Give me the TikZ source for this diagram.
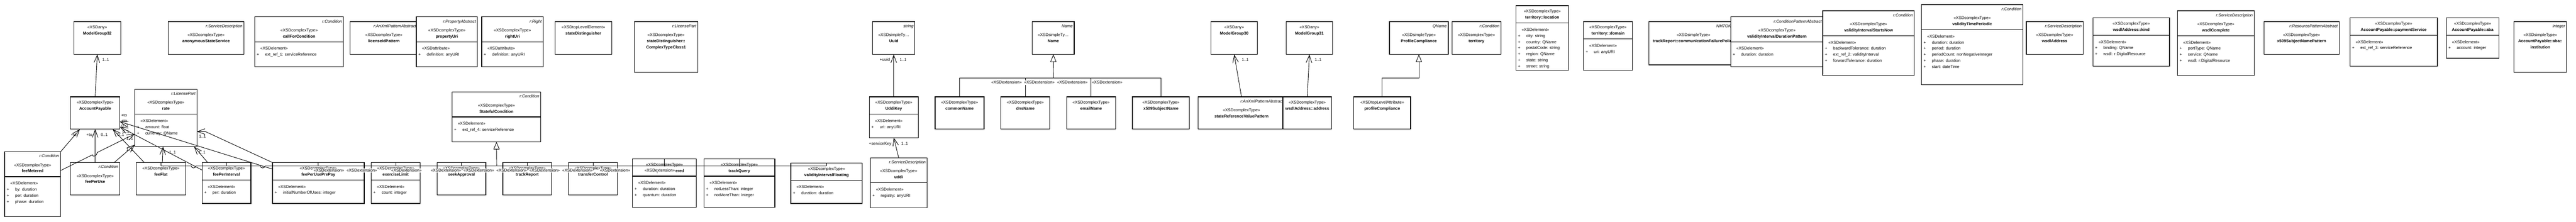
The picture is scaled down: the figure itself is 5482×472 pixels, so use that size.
\documentclass[tikz,border=0pt]{standalone}
\usepackage{fontspec}
\setmainfont{Liberation Sans}
\usetikzlibrary{arrows.meta}
\begin{document}
\begin{tikzpicture}[x=1pt, y=-1pt,
  every node/.style={inner sep=0pt, font=\fontsize{8.7}{13}\selectfont, text height=6.3pt, text depth=1.8pt},
  umlbox/.style={draw, fill=white, line width=1.4pt, anchor=north west, outer sep=0pt},
  umlline/.style={line width=1.4pt},
  stereo/.style={},
  clsname/.style={font=\fontsize{8.7}{13}\selectfont\bfseries},
  pkghead/.style={font=\fontsize{8.7}{13}\selectfont\itshape, anchor=east},
  attrtext/.style={},
  extlabel/.style={fill=white, inner sep=0.6pt},
  multlabel/.style={},
  link/.style={line width=1pt},
  assocline/.style={link, -{Straight Barb[length=16pt, width=12pt]}},
  genline/.style={link, -{Triangle[length=16pt, width=13pt, fill=white]}}]
\useasboundingbox (0,0) rectangle (5482,472);

\foreach \nm/\xa/\ya/\xb/\yb/\hd/\st/\cn in {
 anonService/358/46/519/116/r:ServiceDescription/«XSDcomplexType»/anonymousStateService,
 callForCond/542/36/731/142/r:Condition/«XSDcomplexType»/callForCondition,
 licIdPattern/745/46/889/116/r:AnXmlPatternAbstract/«XSDcomplexType»/licenseIdPattern,
 propUri/886/36/1016/142/r:PropertyAbstract/«XSDcomplexType»/propertyUri,
 rightUri/1025/36/1156/142/r:Right/«XSDcomplexType»/rightUri,
 ctClassOne/1350/46/1485/154/r:LicensePart/«XSDcomplexType»/stateDistinguisher::,
 stateful/962/196/1151/302/r:Condition/«XSDcomplexType»/StatefulCondition,
 feeMetered/10/323/129/461/r:Condition/«XSDcomplexType»/feeMetered,
 rate/287/190/419/312/r:LicensePart/«XSDcomplexType»/rate,
 feePerUse/150/346/255/415/r:Condition/«XSDcomplexType»/feePerUse,
 uuid/1857/46/1947/116/string/«XSDsimpleTy…/Uuid,
 uddi/1852/336/1973/442/r:ServiceDescription/«XSDcomplexType»/uddi,
 nameType/2197/46/2286/116/Name/«XSDsimpleTy…/Name,
 stateRefVP/2550/206/2734/275/r:AnXmlPatternAbstract/«XSDcomplexType»/stateReferenceValuePattern,
 profCompType/2957/46/3082/116/QName/«XSDsimpleType»/ProfileCompliance,
 territory/3090/46/3194/116/r:Condition/«XSDcomplexType»/territory,
 commFailure/3509/46/3699/138/NMTOKEN/«XSDsimpleType»/trackReport::communicationFailurePolicy,
 durPattern/3683/36/3880/142/r:ConditionPatternAbstract/«XSDcomplexType»/validityIntervalDurationPattern,
 startsNow/3879/23/4074/161/r:Condition/«XSDcomplexType»/validityIntervalStartsNow,
 periodic/4089/10/4305/180/r:Condition/«XSDcomplexType»/validityTimePeriodic,
 wsdlAddr/4312/46/4433/116/r:ServiceDescription/«XSDcomplexType»/wsdlAddress,
 wsdlComplete/4634/23/4797/161/r:ServiceDescription/«XSDcomplexType»/wsdlComplete,
 x509Pattern/4818/46/4978/116/r:ResourcePatternAbstract/«XSDcomplexType»/x509SubjectNamePattern,
 institution/5350/46/5462/154/integer/«XSDsimpleType»/AccountPayable::aba::}
{
 \node[umlbox, minimum width={(\xb-\xa)*1pt}, minimum height={(\yb-\ya)*1pt}] (\nm) at (\xa,\ya) {};
 \node[pkghead] (\nm-h) at ({\xb-3},{\ya+10}) {\hd};
 \node[stereo] (\nm-s) at ({(\xa+\xb)/2},{\ya+29}) {\st};
 \node[clsname] (\nm-n) at ({(\xa+\xb)/2},{\ya+42}) {\cn};
}

\foreach \nm/\xa/\ya/\xb/\yb/\st/\cn in {
 mgThirtyTwo/157/46/257/116/«XSDany»/ModelGroup32,
 acctPay/150/206/255/275/«XSDcomplexType»/AccountPayable,
 stateDist/1181/46/1302/116/«XSDtopLevelElement»/stateDistinguisher,
 feeFlat/290/346/395/415/«XSDcomplexType»/feeFlat,
 feePerInterval/430/346/534/433/«XSDcomplexType»/feePerInterval,
 feePrePay/580/346/775/433/«XSDcomplexType»/feePerUsePrePay,
 exerciseLimit/790/346/894/433/«XSDcomplexType»/exerciseLimit,
 seekApproval/930/346/1034/415/«XSDcomplexType»/seekApproval,
 trackReport/1070/346/1174/415/«XSDcomplexType»/trackReport,
 transferControl/1210/346/1314/415/«XSDcomplexType»/transferControl,
 validityMetered/1346/338/1482/441/«XSDcomplexType»/validityTimeMetered,
 trackQuery/1498/338/1649/441/«XSDcomplexType»/trackQuery,
 validityFloating/1683/347/1835/433/«XSDcomplexType»/validityIntervalFloating,
 uddiKey/1850/206/1954/293/«XSDcomplexType»/UddiKey,
 commonName/1990/206/2094/275/«XSDcomplexType»/commonName,
 dnsName/2130/206/2234/275/«XSDcomplexType»/dnsName,
 emailName/2270/206/2374/275/«XSDcomplexType»/emailName,
 x509Name/2410/206/2531/275/«XSDcomplexType»/x509SubjectName,
 mgThirty/2577/46/2676/116/«XSDany»/ModelGroup30,
 mgThirtyOne/2737/46/2836/116/«XSDany»/ModelGroup31,
 wsdlAddrAddr/2730/206/2834/275/«XSDcomplexType»/wsdlAddress::address,
 profCompAttr/2881/206/3002/275/«XSDtopLevelAttribute»/profileCompliance,
 terrLocation/3226/12/3338/150/«XSDcomplexType»/territory::location,
 terrDomain/3370/46/3474/150/«XSDcomplexType»/territory::domain,
 wsdlKind/4454/38/4617/141/«XSDcomplexType»/wsdlAddress::kind,
 payService/5001/38/5187/141/«XSDcomplexType»/AccountPayable::paymentService,
 aba/5206/38/5318/124/«XSDcomplexType»/AccountPayable::aba}
{
 \node[umlbox, minimum width={(\xb-\xa)*1pt}, minimum height={(\yb-\ya)*1pt}] (\nm) at (\xa,\ya) {};
 \node[stereo] (\nm-s) at ({(\xa+\xb)/2},{\ya+13}) {\st};
 \node[clsname] (\nm-n) at ({(\xa+\xb)/2},{\ya+26}) {\cn};
}
\node[clsname] (ctClassOne-n2) at (1417.5,101) {ComplexTypeClass1};
\node[clsname] (institution-n2) at (5406,101) {institution};

\foreach \nm/\st in {callForCond/«XSDelement», propUri/«XSDattribute», rightUri/«XSDattribute»,
 stateful/«XSDelement», feeMetered/«XSDelement», rate/«XSDelement», feePerInterval/«XSDelement»,
 feePrePay/«XSDelement», exerciseLimit/«XSDelement», validityMetered/«XSDelement»,
 trackQuery/«XSDelement», validityFloating/«XSDelement», uddiKey/«XSDelement», uddi/«XSDelement»,
 terrLocation/«XSDelement», terrDomain/«XSDelement», durPattern/«XSDelement», startsNow/«XSDelement»,
 periodic/«XSDelement», wsdlKind/«XSDelement», wsdlComplete/«XSDelement», payService/«XSDelement»,
 aba/«XSDelement»}
{
 \path (\nm.west |- \nm-n) ++(0,11) coordinate (\nm-d);
 \draw[umlline] (\nm-d) -- (\nm.east |- \nm-d);
 \path (\nm-d) ++(12,15) node[stereo, anchor=west] (\nm-e) {\st};
}

\foreach \nm/\i/\atext in {
 callForCond/1/ext\_ref\_1: serviceReference,
 propUri/1/definition: anyURI,
 rightUri/1/definition: anyURI,
 stateful/1/ext\_ref\_4: serviceReference,
 feeMetered/1/by: duration, feeMetered/2/per: duration, feeMetered/3/phase: duration,
 rate/1/amount: float, rate/2/currency: QName,
 feePerInterval/1/per: duration,
 feePrePay/1/initialNumberOfUses: integer,
 exerciseLimit/1/count: integer,
 validityMetered/1/duration: duration, validityMetered/2/quantum: duration,
 trackQuery/1/notLessThan: integer, trackQuery/2/notMoreThan: integer,
 validityFloating/1/duration: duration,
 uddiKey/1/uri: anyURI,
 uddi/1/registry: anyURI,
 terrLocation/1/city: string, terrLocation/2/country: QName, terrLocation/3/postalCode: string,
 terrLocation/4/region: QName, terrLocation/5/state: string, terrLocation/6/street: string,
 terrDomain/1/uri: anyURI,
 durPattern/1/duration: duration,
 startsNow/1/backwardTolerance: duration, startsNow/2/ext\_ref\_2: validityInterval,
 startsNow/3/forwardTolerance: duration,
 periodic/1/duration: duration, periodic/2/period: duration, periodic/3/periodCount: nonNegativeInteger,
 periodic/4/phase: duration, periodic/5/start: dateTime,
 wsdlKind/1/binding: QName, wsdlKind/2/wsdl: r:DigitalResource,
 wsdlComplete/1/portType: QName, wsdlComplete/2/service: QName, wsdlComplete/3/wsdl: r:DigitalResource,
 payService/1/ext\_ref\_3: serviceReference,
 aba/1/account: integer}
{
 \path (\nm-d) ++(7,{15+13*\i}) node[attrtext] (\nm-p\i) {+} ++(15,0) node[attrtext, anchor=west] (\nm-a\i) {\atext};
}

\draw[assocline] (acctPay.north) -- (mgThirtyTwo.south);
\draw[assocline] (uddiKey.north) -- (uuid.south);
\draw[assocline] (uddi.north) -- (uddiKey.south);
\draw[assocline] (stateRefVP.north) -- (mgThirty.south);
\draw[assocline] (wsdlAddrAddr.north) -- (mgThirtyOne.south);
\draw[assocline] (feeMetered.north east) -- ([xshift=20pt]acctPay.south west);
\draw[assocline] (feePerUse.north) -- (acctPay.south);
\draw[assocline] ([xshift=17pt]feeFlat.north west) -- ([xshift=-15pt]acctPay.south east);
\draw[assocline] ([yshift=-16pt]feePerInterval.north west) -- ([yshift=-64pt]acctPay.north east);
\draw[assocline] ([yshift=-14pt]feePrePay.north west) -- ([yshift=-53pt]acctPay.north east);
\draw[assocline] ([yshift=-40pt]feeMetered.north east) -- (197,329.4) .. controls (197,336) and (207,331) .. (207,324.5) -- ([yshift=-95pt]rate.north west);
\draw[assocline] ([xshift=-12pt]feePerUse.north east) -- ([yshift=4pt]rate.south west);
\draw[assocline] ([xshift=3pt]feeFlat.north) -- ([xshift=-6pt]rate.south);
\draw[assocline] ([xshift=12pt]feePerInterval.north west) -- ([xshift=-6pt]rate.south east);
\draw[assocline] (feePrePay.north west) -- (437,280) -- ([yshift=-90pt]rate.north east);

\coordinate (statBus) at (1057,353);
\draw[genline] (statBus) -- (stateful.south);
\draw[link] (feeFlat.north |- statBus) -- (407,353) .. controls (407,359) and (417,359) .. (417,353)
 -- (554,353) .. controls (554,359) and (564,359) .. (564,353) -- (validityFloating.north |- statBus);
\foreach \c in {feeFlat,feePerInterval,feePrePay,exerciseLimit,seekApproval,trackReport,transferControl,validityMetered,trackQuery,validityFloating}
 \draw[link] (\c.north) -- (\c.north |- statBus);

\coordinate (nameBus) at (2242,166);
\draw[genline] (nameBus) -- (nameType.south);
\draw[link] (commonName.north |- nameBus) -- (x509Name.north |- nameBus);
\foreach \c in {commonName,dnsName,emailName,x509Name}
 \draw[link] (\c.north) -- (\c.north |- nameBus);
\draw[genline] (profCompAttr.north) -- ++(0,-40) -| (profCompType.south);

\foreach \x [count=\i] in {700,770,865,949,1019,1089,1159,1229,1309,1404}
 \node[extlabel] (extS\i) at (\x,363) {«XSDextension»};
\foreach \x [count=\i] in {2142,2212,2282,2356}
 \node[extlabel] (extN\i) at (\x,176) {«XSDextension»};

\foreach \x/\y/\t [count=\i] in {225/128/{1..1}, 157/288/{+to}, 190/288/{+to}, 222/288/{0..1},
 257/288/{0..1}, 264/246/{+to}, 264/258/{+to}, 266/269/{0..1}, 268/281/{0..1}, 276/295/{1..1},
 276/319/{1..1}, 367/325/{1..1}, 431/291/{1..1}, 430/325/{1..1}, 1883/128/{+uuid}, 1922/128/{1..1},
 1873/306/{+serviceKey}, 1925/306/{1..1}, 2650/128/{1..1}, 2805/128/{1..1}}
 \node[multlabel] (mul\i) at (\x,\y) {\t};
\end{tikzpicture}
\end{document}
